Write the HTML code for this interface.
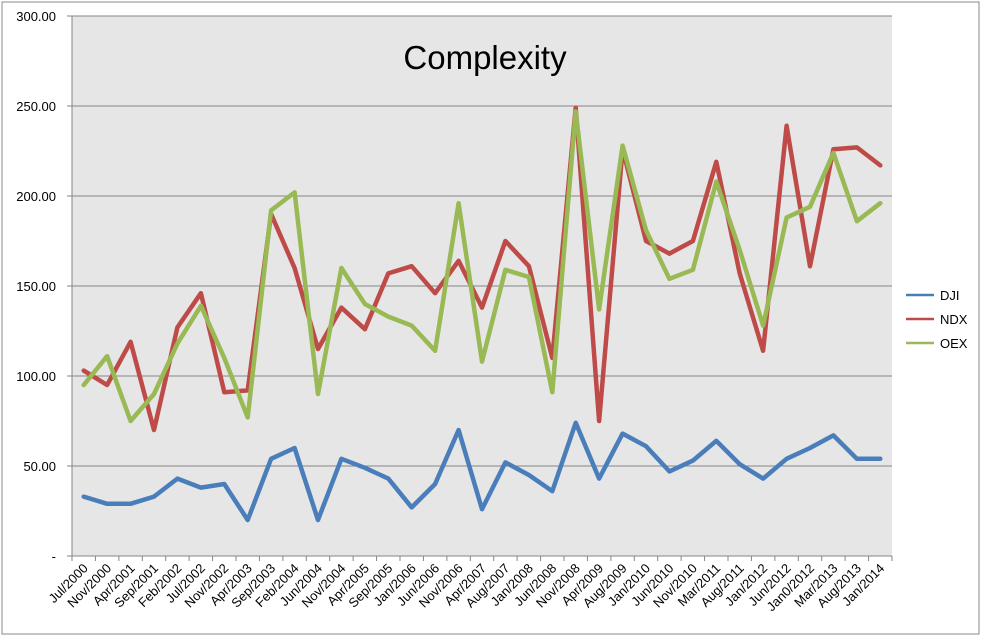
<!DOCTYPE html>
<html><head><meta charset="utf-8"><style>
body{margin:0;background:#fff;}
svg{display:block;font-family:"Liberation Sans",Arial,sans-serif;}
</style></head><body>
<svg id="c" width="981" height="637" xmlns="http://www.w3.org/2000/svg">
<rect x="0" y="0" width="981" height="637" fill="#fff"/>
<rect x="2" y="2" width="977" height="632" fill="none" stroke="#888" stroke-width="1"/>
<rect x="72" y="16" width="820" height="540" fill="#e6e6e6"/>
<g id="g"></g>
<text x="485" y="69" font-size="33" text-anchor="middle" fill="#000">Complexity</text>
<g font-size="13">
<line x1="906" y1="295" x2="934" y2="295" stroke="#4a7ebb" stroke-width="2.5"/><text x="940" y="300">DJI</text>
<line x1="906" y1="319" x2="934" y2="319" stroke="#be4b48" stroke-width="2.5"/><text x="940" y="324">NDX</text>
<line x1="906" y1="343" x2="934" y2="343" stroke="#98b954" stroke-width="2.5"/><text x="940" y="348">OEX</text>
</g>
</svg>
<script>
const g=document.getElementById('g');let s='';
const L=72,R=892,T=16,B=556,k=(B-T)/300,n=35,w=(R-L)/n;
for(let v=0;v<=300;v+=50){const y=B-v*k;
 if(v>0)s+=`<line x1="${L}" y1="${y}" x2="${R}" y2="${y}" stroke="#868686" stroke-width="1"/>`;
 s+=`<line x1="${L-5}" y1="${y}" x2="${L}" y2="${y}" stroke="#868686"/>`;
 s+=`<text x="56" y="${y+5}" font-size="13" text-anchor="end">${v?v.toFixed(2):'-'}</text>`;}
s+=`<line x1="${L}" y1="${T}" x2="${L}" y2="${B}" stroke="#868686"/><line x1="${L}" y1="${B}" x2="${R}" y2="${B}" stroke="#868686"/>`;
const lab="Jul/2000 Nov/2000 Apr/2001 Sep/2001 Feb/2002 Jul/2002 Nov/2002 Apr/2003 Sep/2003 Feb/2004 Jun/2004 Nov/2004 Apr/2005 Sep/2005 Jan/2006 Jun/2006 Nov/2006 Apr/2007 Aug/2007 Jan/2008 Jun/2008 Nov/2008 Apr/2009 Aug/2009 Jan/2010 Jun/2010 Nov/2010 Mar/2011 Aug/2011 Jan/2012 Jun/2012 Jan0/2012 Mar/2013 Aug/2013 Jan/2014".split(' ');
for(let i=0;i<=n;i++){const x=L+i*w;s+=`<line x1="${x}" y1="${B}" x2="${x}" y2="${B+5}" stroke="#868686"/>`;}
lab.forEach((t,i)=>{const x=L+(i+0.5)*w+5,y=B+13;s+=`<text x="${x}" y="${y}" font-size="13" text-anchor="end" transform="rotate(-45 ${x} ${y})">${t}</text>`;});
const D={
"#4a7ebb":[33,29,29,33,43,38,40,20,54,60,20,54,49,43,27,40,70,26,52,45,36,74,43,68,61,47,53,64,51,43,54,60,67,54,54],
"#be4b48":[103,95,119,70,127,146,91,92,190,160,115,138,126,157,161,146,164,138,175,161,110,249,75,226,175,168,175,219,157,114,239,161,226,227,217],
"#98b954":[95,111,75,90,118,139,110,77,192,202,90,160,140,133,128,114,196,108,159,155,91,247,137,228,181,154,159,208,170,128,188,194,224,186,196]};
for(const c in D){const p=D[c].map((v,i)=>`${(L+(i+0.5)*w).toFixed(1)},${(B-v*k).toFixed(1)}`).join(' ');
 s+=`<polyline points="${p}" fill="none" stroke="${c}" stroke-width="4.5" stroke-linejoin="round" stroke-linecap="round"/>`;}
g.innerHTML=s;
</script>
</body></html>
